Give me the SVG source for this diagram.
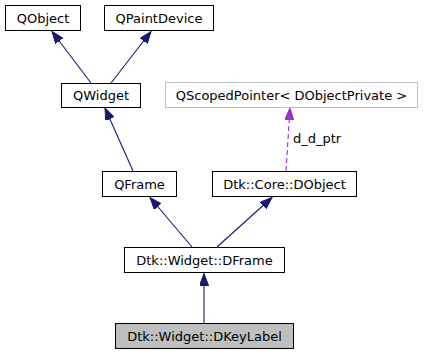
<svg xmlns="http://www.w3.org/2000/svg" width="424" height="355" viewBox="0 0 424 355">
  <style>
    .node rect { fill: #ffffff; stroke: #000000; stroke-width: 1; }
    .node.ext rect { stroke: #bfbfbf; }
    .node.self rect { fill: #bfbfbf; }
    text { font-family: "DejaVu Sans", "Liberation Sans", sans-serif; font-size: 13px; fill: #000000; }
    .node text { text-anchor: middle; }
    .inherit { stroke: #191970; stroke-width: 1.1; fill: none; marker-end: url(#arrowBlue); }
    .usage { stroke: #9a32cd; stroke-width: 1.1; fill: none; stroke-dasharray: 5,3; marker-end: url(#arrowPurple); }
  </style>
  <defs>
    <marker id="arrowBlue" markerUnits="userSpaceOnUse" markerWidth="14" markerHeight="10" refX="12" refY="4.5" orient="auto">
      <path d="M0,0 L12,4.5 L0,9 z" fill="#191970" stroke="#191970" stroke-width="1"/>
    </marker>
    <marker id="arrowPurple" markerUnits="userSpaceOnUse" markerWidth="14" markerHeight="10" refX="12" refY="4.5" orient="auto">
      <path d="M0,0 L12,4.5 L0,9 z" fill="#9a32cd" stroke="#9a32cd" stroke-width="1"/>
    </marker>
  </defs>

  <!-- connectors -->
  <g id="edges">
    <line class="inherit" x1="91" y1="83" x2="52" y2="31.5"/>
    <line class="inherit" x1="111" y1="83" x2="151" y2="31.5"/>
    <line class="inherit" x1="133" y1="171" x2="105" y2="108"/>
    <line class="inherit" x1="192" y1="247" x2="150" y2="197.5"/>
    <line class="inherit" x1="217" y1="247" x2="272" y2="197.5"/>
    <line class="inherit" x1="204" y1="323" x2="204" y2="273.5"/>
    <line class="usage" x1="286" y1="171" x2="290" y2="108"/>
    <text x="293" y="143">d_d_ptr</text>
  </g>

  <!-- classes -->
  <g id="QObject" class="node">
    <rect x="5.5" y="5.5" width="75" height="25"/>
    <text x="43" y="22.5">QObject</text>
  </g>
  <g id="QPaintDevice" class="node">
    <rect x="104.5" y="5.5" width="109" height="25"/>
    <text x="159" y="22.5">QPaintDevice</text>
  </g>
  <g id="QWidget" class="node">
    <rect x="61.5" y="83.5" width="79" height="24"/>
    <text x="101" y="100">QWidget</text>
  </g>
  <g id="QScopedPointer" class="node ext">
    <rect x="165.5" y="82.5" width="252" height="25"/>
    <text x="291.5" y="99.5">QScopedPointer&lt; DObjectPrivate &gt;</text>
  </g>
  <g id="QFrame" class="node">
    <rect x="102.5" y="171.5" width="74" height="25"/>
    <text x="139.5" y="188.5">QFrame</text>
  </g>
  <g id="DObject" class="node">
    <rect x="212.5" y="171.5" width="144" height="25"/>
    <text x="284.5" y="188.5">Dtk::Core::DObject</text>
  </g>
  <g id="DFrame" class="node">
    <rect x="124.5" y="247.5" width="160" height="25"/>
    <text x="204.5" y="264.5">Dtk::Widget::DFrame</text>
  </g>
  <g id="DKeyLabel" class="node self">
    <rect x="115.5" y="323.5" width="178" height="25"/>
    <text x="204.5" y="340.5">Dtk::Widget::DKeyLabel</text>
  </g>
</svg>
